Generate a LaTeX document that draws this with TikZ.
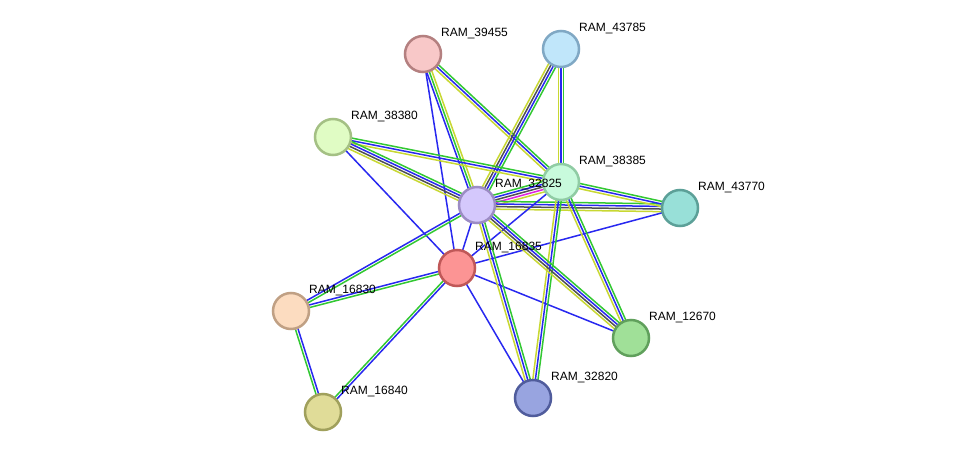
\documentclass[tikz,border=0pt]{standalone}
\usepackage{fontspec}
\setmainfont{Liberation Sans}
\usepackage{tikz}
\usetikzlibrary{calc,backgrounds}
% evidence colours
\definecolor{evblue}{RGB}{40,40,240}
\definecolor{evgreen}{RGB}{50,200,50}
\definecolor{evyellow}{RGB}{200,216,50}
\definecolor{evgrey}{RGB}{80,80,80}
\definecolor{evpink}{RGB}{224,32,224}
% protein colours
\definecolor{f39455}{RGB}{248,200,200}\definecolor{d39455}{RGB}{180,128,128}
\definecolor{f43785}{RGB}{192,230,250}\definecolor{d43785}{RGB}{128,168,196}
\definecolor{f38380}{RGB}{224,252,196}\definecolor{d38380}{RGB}{164,192,132}
\definecolor{f38385}{RGB}{200,250,220}\definecolor{d38385}{RGB}{144,204,164}
\definecolor{f32825}{RGB}{212,200,252}\definecolor{d32825}{RGB}{156,140,196}
\definecolor{f43770}{RGB}{152,224,216}\definecolor{d43770}{RGB}{92,160,152}
\definecolor{f16835}{RGB}{252,148,148}\definecolor{d16835}{RGB}{192,88,88}
\definecolor{f16830}{RGB}{252,220,192}\definecolor{d16830}{RGB}{192,160,132}
\definecolor{f12670}{RGB}{160,224,152}\definecolor{d12670}{RGB}{96,160,92}
\definecolor{f32820}{RGB}{152,164,224}\definecolor{d32820}{RGB}{80,92,156}
\definecolor{f16840}{RGB}{224,220,152}\definecolor{d16840}{RGB}{160,160,92}
\newcommand{\bundle}[3]{%
  \foreach \off/\col in {#3}
    \draw[edge, draw=ev\col] ($(#1)!\off pt!90:(#2)$) -- ($(#2)!\off pt!-90:(#1)$);
}

\begin{document}
\begin{tikzpicture}[x=1pt, y=-1pt,
    prot/.style={circle, line width=2.5pt, minimum size=36pt, inner sep=0pt,
      fill=f#1, draw=d#1, label={[lbl]45:RAM\_#1}},
    lbl/.style={font=\fontsize{12}{14}\selectfont, text=black, xshift=1pt, yshift=-2pt},
    edge/.style={line width=1.5pt}]
    \useasboundingbox (0,0) rectangle (975,458);

    % Proteins
    \node[prot=39455] (p39455) at (423,54) {};
    \node[prot=43785] (p43785) at (561,49) {};
    \node[prot=38380] (p38380) at (333,137) {};
    \node[prot=38385] (p38385) at (561,182) {};
    \node[prot=32825] (p32825) at (477,205) {};
    \node[prot=43770] (p43770) at (680,208) {};
    \node[prot=16835] (p16835) at (457,268) {};
    \node[prot=16830] (p16830) at (291,311) {};
    \node[prot=12670] (p12670) at (631,338) {};
    \node[prot=32820] (p32820) at (533,398) {};
    \node[prot=16840] (p16840) at (323,412) {};

    % Interactions
    \begin{pgfonlayer}{background}
      \fill[white] (0,0) rectangle (975,458);
      \bundle{p39455}{p16835}{0/blue}
      \bundle{p39455}{p32825}{-2.6/blue, 0/green, 2.6/yellow}
      \bundle{p39455}{p38385}{-2.6/yellow, 0/blue, 2.6/green}
      \bundle{p43785}{p32825}{-3.9/yellow, -1.3/grey, 1.3/blue, 3.9/green}
      \bundle{p43785}{p38385}{-2.6/yellow, 0/blue, 2.6/green}
      \bundle{p38380}{p38385}{-2.6/yellow, 0/blue, 2.6/green}
      \bundle{p38380}{p32825}{-3.9/yellow, -1.3/grey, 1.3/blue, 3.9/green}
      \bundle{p38380}{p16835}{0/blue}
      \bundle{p32825}{p38385}{-5.2/yellow, -2.6/pink, 0/grey, 2.6/blue, 5.2/green}
      \bundle{p32825}{p43770}{-3.9/yellow, -1.3/grey, 1.3/blue, 3.9/green}
      \bundle{p38385}{p43770}{-2.6/yellow, 0/blue, 2.6/green}
      \bundle{p38385}{p16835}{0/blue}
      \bundle{p43770}{p16835}{0/blue}
      \bundle{p32825}{p16835}{0/blue}
      \bundle{p32825}{p16830}{-1.3/blue, 1.3/green}
      \bundle{p16835}{p16830}{-1.3/blue, 1.3/green}
      \bundle{p16830}{p16840}{-1.3/green, 1.3/blue}
      \bundle{p16835}{p16840}{-1.3/green, 1.3/blue}
      \bundle{p16835}{p32820}{0/blue}
      \bundle{p16835}{p12670}{0/blue}
      \bundle{p32825}{p32820}{-2.6/yellow, 0/blue, 2.6/green}
      \bundle{p38385}{p32820}{-2.6/yellow, 0/blue, 2.6/green}
      \bundle{p32825}{p12670}{-3.9/yellow, -1.3/grey, 1.3/blue, 3.9/green}
      \bundle{p38385}{p12670}{-2.6/yellow, 0/blue, 2.6/green}
    \end{pgfonlayer}
\end{tikzpicture}
\end{document}
